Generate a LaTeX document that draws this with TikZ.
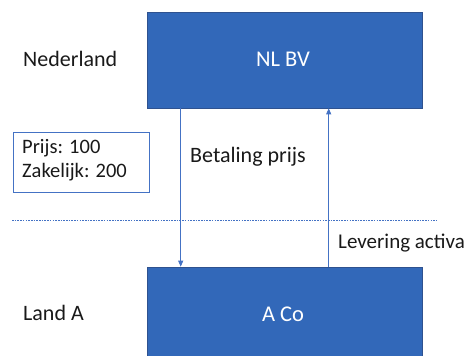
\documentclass[tikz,border=0pt]{standalone}
\usepackage{fontspec}
\setmainfont{Carlito}
\usetikzlibrary{arrows.meta}
\definecolor{boxblue}{RGB}{50,104,185}
\definecolor{boxedge}{RGB}{47,82,143}
\definecolor{lineblue}{RGB}{68,114,196}
\tikzset{
  entity/.style={draw=boxedge, line width=0.6pt, fill=boxblue, minimum width=275pt, inner sep=0pt},
  boxtxt/.style={text=white, font=\fontsize{22.5}{27}\selectfont, inner sep=0pt, anchor=base},
  lbl/.style={inner sep=0pt, anchor=base west, font=\fontsize{22}{26}\selectfont, text=black!90},
  flow/.style={draw=lineblue, line width=0.9pt, -{Triangle[length=6pt,width=5pt]}},
  divider/.style={draw=lineblue, line width=1pt, dash pattern=on 1.6pt off 1.1pt},
  infobox/.style={draw=lineblue, line width=0.9pt, minimum width=136pt, minimum height=60pt, inner sep=0pt}
}
\begin{document}
\begin{tikzpicture}[x=1pt,y=1pt]
\useasboundingbox (0,0) rectangle (466,356);
\clip (0,0) rectangle (466,356);
\node[entity, minimum height=96pt] (nl) at (284.5,296) {};
\node[boxtxt] (nltxt) at (283,289) {NL BV};
\node[entity, minimum height=98pt] (aco) at (284.5,40) {};
\node[boxtxt] (acotxt) at (283,34) {A Co};
\node[lbl] (ned) at (23,289) {Nederland};
\node[lbl] (landa) at (23,35) {Land A};
\node[infobox] (prijs) at (81,194) {};
\node[lbl, align=left, font=\fontsize{20.5}{24}\selectfont] (prijstxt) at (22,178) {Prijs: 100\\Zakelijk: 200};
\node[lbl] (bet) at (190,193) {Betaling prijs};
\node[lbl, font=\fontsize{21}{25}\selectfont] (lev) at (338,107) {Levering activa};
\coordinate (dl) at (12,135);
\coordinate (dr) at (437,135);
\draw[divider] (dl) -- (dr);
\draw[flow] ([xshift=34pt]nl.south west) -- ([xshift=34pt]aco.north west);
\draw[flow] ([xshift=182pt]aco.north west) -- ([xshift=182pt]nl.south west);
\end{tikzpicture}
\end{document}
